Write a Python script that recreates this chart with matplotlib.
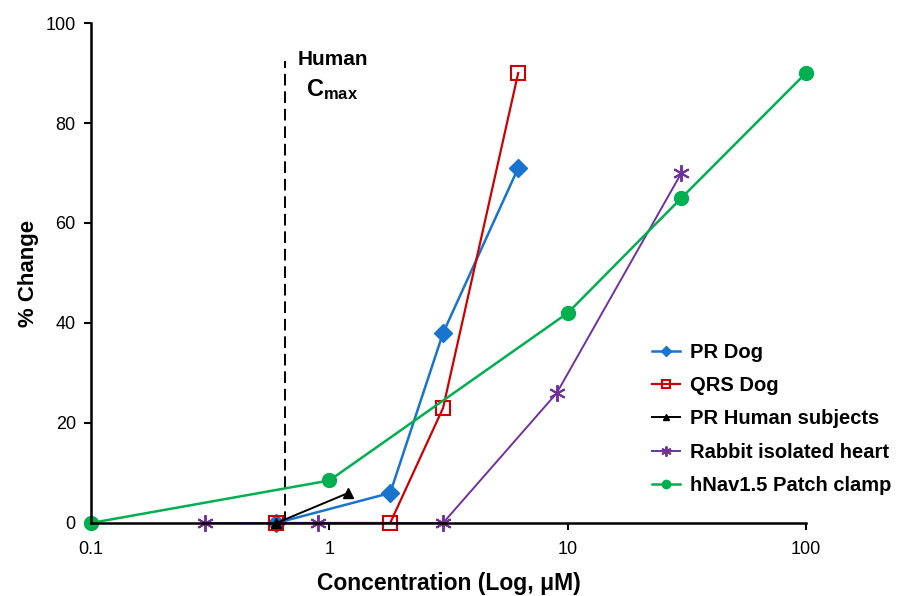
import matplotlib
matplotlib.use("Agg")
import matplotlib.pyplot as plt

plt.rcParams["font.family"] = ["Liberation Sans", "DejaVu Sans"]
plt.rcParams["mathtext.fontset"] = "custom"
plt.rcParams["mathtext.rm"] = "Liberation Sans"
plt.rcParams["mathtext.bf"] = "Liberation Sans:bold"

pr_dog_x = [0.6, 1.8, 3.0, 6.2]
pr_dog_y = [0, 6, 38, 71]

qrs_dog_x = [0.6, 1.8, 3.0, 6.2]
qrs_dog_y = [0, 0, 23, 90]

pr_human_x = [0.6, 1.2]
pr_human_y = [0, 6]

rabbit_x = [0.3, 0.9, 3.0, 9.0, 30.0]
rabbit_y = [0, 0, 0, 26, 70]

hnav_x = [0.1, 1.0, 10.0, 30.0, 100.0]
hnav_y = [0, 8.5, 42, 65, 90]

cmax = 0.65

fig = plt.figure(figsize=(9.04, 5.96), dpi=100)
ax = fig.add_axes([0.1007, 0.1225, 0.7909, 0.8389])

ax.plot(pr_dog_x, pr_dog_y, color="#1874CD", lw=1.8, marker="D", ms=9,
        label="PR Dog", zorder=4, clip_on=False)
ax.plot(qrs_dog_x, qrs_dog_y, color="#D00000", lw=1.6, marker="s", ms=10,
        mfc="none", mec="#D00000", mew=1.5, label="QRS Dog", zorder=4, clip_on=False)
ax.plot(pr_human_x, pr_human_y, color="black", lw=1.4, marker="^", ms=7,
        label="PR Human subjects", zorder=5, clip_on=False)
ax.plot(rabbit_x, rabbit_y, color="#7030A0", lw=1.4, marker=(6, 2, 0), ms=12,
        mew=1.4, label="Rabbit isolated heart", zorder=4, clip_on=False)
ax.plot(hnav_x, hnav_y, color="#00B050", lw=1.8, marker="o", ms=10,
        label="hNav1.5 Patch clamp", zorder=4, clip_on=False)

# Human Cmax marker line
ax.plot([cmax, cmax], [0, 92.4], color="black", lw=1.4, ls=(0, (6, 3)), zorder=3)
ax.text(1.03, 92.8, "Human", ha="center", va="center", fontsize=15, fontweight="bold")
ax.text(1.03, 86.6, r"$\mathbf{C_{max}}$", ha="center", va="center", fontsize=17)

ax.set_xscale("log")
ax.set_xlim(0.1, 100)
ax.set_ylim(0, 100)
ax.set_xticks([0.1, 1, 10, 100])
ax.set_xticklabels(["0.1", "1", "10", "100"])
ax.xaxis.set_minor_locator(matplotlib.ticker.NullLocator())
ax.set_yticks([0, 20, 40, 60, 80, 100])

for s in ["top", "right"]:
    ax.spines[s].set_visible(False)
for s in ["left", "bottom"]:
    ax.spines[s].set_linewidth(1.8)
    ax.spines[s].set_zorder(4.5)
ax.tick_params(axis="both", labelsize=13, width=1.5, length=5)
ax.tick_params(axis="x", pad=8)
ax.tick_params(axis="y", pad=6)

ax.set_xlabel("Concentration (Log, \u03bcM)", fontsize=16.5, fontweight="bold", labelpad=10)
ax.set_ylabel("% Change", fontsize=16, fontweight="bold", labelpad=5)

leg = ax.legend(loc="center left", bbox_to_anchor=(652 / 904, 1 - 419 / 596),
                bbox_transform=fig.transFigure, frameon=False,
                prop={"weight": "bold", "size": 14.5}, labelspacing=0.7,
                handlelength=1.4, handletextpad=0.5, markerscale=0.6,
                borderpad=0, borderaxespad=0)

fig.savefig("out.png", dpi=100)
